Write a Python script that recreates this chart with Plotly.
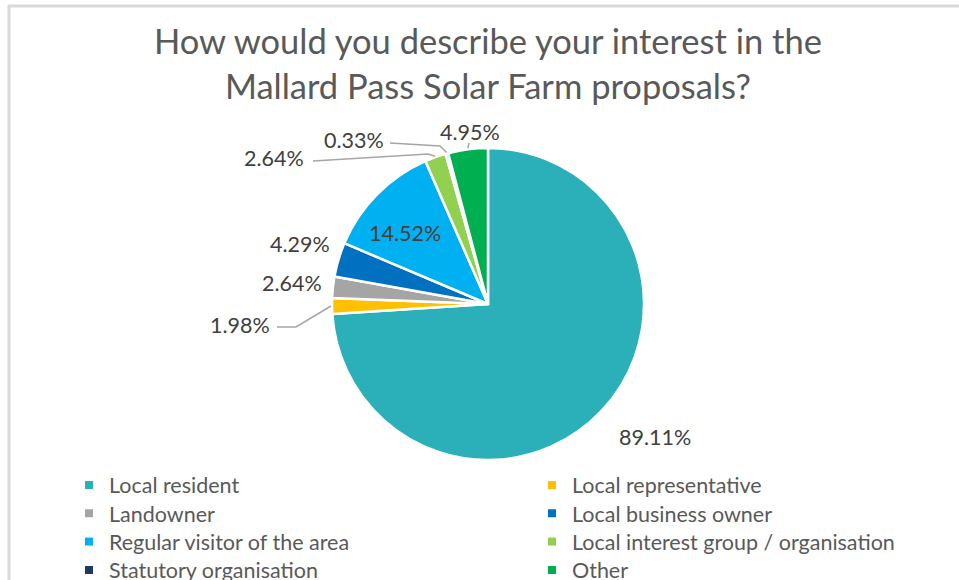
import math
import plotly.graph_objects as go

# ---- data ----
categories = ["Local resident", "Local representative", "Landowner", "Local business owner",
              "Regular visitor of the area", "Local interest group / organisation",
              "Statutory organisation", "Other"]
values = [89.11, 1.98, 2.64, 4.29, 14.52, 2.64, 0.33, 4.95]
title_text = "How would you describe your interest in the<br>Mallard Pass Solar Farm proposals?"

# ---- styles / layout ----
colors = ["#2BB0B9", "#FFC000", "#A5A5A5", "#0070C0", "#00B0F0", "#92D050", "#203864", "#00B050"]
W, H = 959, 580
cx, cy, r = 488, 304, 156
FONT = "Lato"
# data-label centres (pixels) and leader-line elbows (pixels) per slice
label_xy = [(655, 437), (240, 325), (292, 283), (300, 244), (405, 233), (274, 158), (354, 140), (470, 132)]
leader_pts = {1: [(277, 327), (296, 327)],
              5: [(313, 161), (428, 154)],
              6: [(390, 143), (440, 146)],
              7: [(469, 143)]}
legend_xy = []  # (x_px, y_px) of each legend entry
for i in range(len(categories)):
    col, row = i % 2, i // 2
    legend_xy.append((69 if col == 0 else 532, 485 + 28.3 * row))


def px(x, y):
    return x / W, 1 - y / H


total = sum(values)
mids, cum = [], 0.0
for v in values:
    mids.append((cum + v / 2) / total * 360.0)
    cum += v


def edge(theta, R):
    a = math.radians(theta)
    return cx + R * math.sin(a), cy - R * math.cos(a)


fig = go.Figure()
fig.add_trace(go.Pie(
    labels=categories, values=values, sort=False, direction="clockwise", rotation=0,
    marker=dict(colors=colors, line=dict(color="white", width=2.5)),
    textinfo="none", showlegend=False, hoverinfo="label+value",
    domain=dict(x=[(cx - r) / W, (cx + r) / W], y=[1 - (cy + r) / H, 1 - (cy - r) / H]),
))

# legend entries (one small legend per entry so rows/columns sit where the reference has them)
layout_legends = {}
for i, (cat, col) in enumerate(zip(categories, colors)):
    key = "legend" if i == 0 else f"legend{i + 1}"
    fig.add_trace(go.Scatter(x=[None], y=[None], mode="markers", name=cat,
                             marker=dict(symbol="square", size=8, color=col),
                             showlegend=True, legend=key, hoverinfo="skip"))
    lx, ly = px(*legend_xy[i])
    layout_legends[key] = dict(x=lx, y=ly, xanchor="left", yanchor="middle",
                               bgcolor="rgba(0,0,0,0)",
                               font=dict(family=FONT, size=21.5, color="#595959"))

annotations = []
tx, ty = px(488, 18)
annotations.append(dict(x=tx, y=ty, xref="paper", yref="paper", text=title_text,
                        showarrow=False, xanchor="center", yanchor="top", align="center",
                        font=dict(family=FONT, size=34.5, color="#595959")))
for i, v in enumerate(values):
    x, y = px(*label_xy[i])
    annotations.append(dict(x=x, y=y, xref="paper", yref="paper", text=f"{v:.2f}%",
                            showarrow=False, xanchor="center", yanchor="middle",
                            font=dict(family=FONT, size=21.5, color="#404040")))

shapes = [
    dict(type="line", xref="paper", yref="paper", x0=8 / W, x1=1, y0=1 - 6 / H, y1=1 - 6 / H,
         line=dict(color="#D9D9D9", width=3)),
    dict(type="line", xref="paper", yref="paper", x0=9 / W, x1=9 / W, y0=0, y1=1 - 5 / H,
         line=dict(color="#D9D9D9", width=3)),
]
for i, pts in leader_pts.items():
    allp = pts + [edge(mids[i], r + 1)]
    path = "M " + " L ".join(f"{px(x, y)[0]},{px(x, y)[1]}" for x, y in allp)
    shapes.append(dict(type="path", xref="paper", yref="paper", path=path,
                       line=dict(color="#A6A6A6", width=1.5)))

fig.update_layout(
    width=W, height=H, margin=dict(l=0, r=0, t=0, b=0, autoexpand=False),
    paper_bgcolor="white", plot_bgcolor="white",
    xaxis=dict(visible=False), yaxis=dict(visible=False),
    annotations=annotations, shapes=shapes,
    **layout_legends,
)

fig.write_html("out.html")
